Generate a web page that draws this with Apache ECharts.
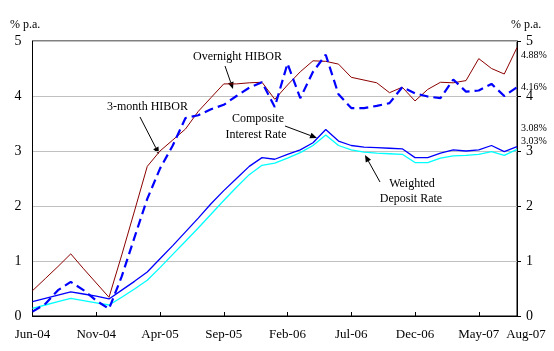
<!DOCTYPE html>
<html>
<head>
<meta charset="utf-8">
<script src="https://cdn.jsdelivr.net/npm/echarts@6/dist/echarts.min.js"></script>
<style>
html,body{margin:0;padding:0;background:#fff;}
#c{width:554px;height:351px;}
</style>
</head>
<body>
<div id="c"></div>
<script>
const months = ['Jun-04','Jul-04','Aug-04','Sep-04','Oct-04','Nov-04','Dec-04','Jan-05','Feb-05','Mar-05',
  'Apr-05','May-05','Jun-05','Jul-05','Aug-05','Sep-05','Oct-05','Nov-05','Dec-05','Jan-06',
  'Feb-06','Mar-06','Apr-06','May-06','Jun-06','Jul-06','Aug-06','Sep-06','Oct-06','Nov-06',
  'Dec-06','Jan-07','Feb-07','Mar-07','Apr-07','May-07','Jun-07','Jul-07','Aug-07'];

const hibor3m = [0.46,0.68,0.90,1.13,0.86,0.60,0.34,1.11,1.91,2.72,
  3.00,3.20,3.40,3.72,3.97,4.22,4.22,4.24,4.25,3.94,
  4.20,4.44,4.64,4.63,4.58,4.34,4.29,4.24,4.06,4.16,
  3.91,4.12,4.25,4.24,4.28,4.68,4.50,4.40,4.88];

const hiborOvernight = [0.08,0.22,0.47,0.62,0.47,0.28,0.13,0.72,1.43,2.13,
  2.68,3.10,3.60,3.65,3.76,3.84,4.00,4.15,4.25,3.80,
  4.59,3.96,4.44,4.75,4.03,3.78,3.78,3.82,3.87,4.16,
  4.05,3.99,3.96,4.30,4.08,4.10,4.22,4.00,4.16];

const compositeRate = [0.26,0.32,0.38,0.44,0.40,0.36,0.31,0.47,0.63,0.80,
  1.04,1.28,1.53,1.78,2.04,2.28,2.50,2.72,2.88,2.85,
  2.94,3.02,3.15,3.39,3.18,3.10,3.07,3.06,3.05,3.04,
  2.88,2.88,2.96,3.02,3.00,3.02,3.10,2.99,3.08];

const depositRate = [0.14,0.20,0.26,0.32,0.28,0.24,0.20,0.34,0.49,0.65,
  0.88,1.12,1.36,1.60,1.85,2.10,2.34,2.57,2.74,2.78,
  2.87,2.97,3.10,3.29,3.10,3.02,2.98,2.96,2.95,2.94,
  2.79,2.79,2.87,2.91,2.92,2.94,2.99,2.92,3.03];

const yTicks = [0,1,2,3,4,5];
const endLabels = ['4.88%','4.16%','3.08%','3.03%'];

const FONT = '"Liberation Serif","Times New Roman",serif';
const chart = echarts.init(document.getElementById('c'), null, {renderer:'canvas'});

function arrow(x1,y1,x2,y2){
  const dx=x2-x1, dy=y2-y1, L=Math.sqrt(dx*dx+dy*dy);
  const ux=dx/L, uy=dy/L, hl=7, hw=3;
  const bx=x2-ux*hl, by=y2-uy*hl;
  return [
    {type:'line', shape:{x1:x1,y1:y1,x2:bx,y2:by}, style:{stroke:'#000',lineWidth:1}},
    {type:'polygon', shape:{points:[[x2,y2],[bx-uy*hw,by+ux*hw],[bx+uy*hw,by-ux*hw]]}, style:{fill:'#000'}}
  ];
}
function txt(x,y,s,size,align){
  return {type:'text', x:x, y:y, style:{text:s, font:size+'px '+FONT, fill:'#000', textAlign:align||'left', textVerticalAlign:'middle'}};
}

const graphics = [].concat(
  txt(10,25,'% p.a.',12),
  txt(511,25,'% p.a.',12),
  txt(193,57,'Overnight HIBOR',12),
  arrow(225,66,233,89),
  txt(107,107,'3-month HIBOR',12),
  arrow(140,117,159,154),
  txt(258,119,'Composite',12,'center'),
  txt(256,135,'Interest Rate',12,'center'),
  arrow(285,126,317,138),
  txt(412,184,'Weighted',12,'center'),
  txt(411,199,'Deposit Rate',12,'center'),
  arrow(380,182,365,155),
  txt(521,55,endLabels[0],10),
  txt(521,87,endLabels[1],10),
  txt(521,128,endLabels[2],10),
  txt(521,141,endLabels[3],10)
);

const showIdx = (i)=> i%5===0 || i===months.length-1;

chart.setOption({
  animation:false,
  backgroundColor:'#fff',
  grid:{left:32.5, right:37, top:41, bottom:35, show:true, borderColor:'#000', borderWidth:1, backgroundColor:'transparent'},
  xAxis:{
    type:'category', data:months, boundaryGap:false,
    axisLine:{lineStyle:{color:'#000',width:1}},
    axisTick:{inside:true, length:4, interval:(i)=>showIdx(i), lineStyle:{color:'#000'}},
    axisLabel:{interval:(i)=>showIdx(i), margin:12, color:'#000', fontFamily:FONT, fontSize:13,
      formatter:(v,i)=> i===months.length-1 ? '{r|'+v+'}' : v,
      rich:{r:{fontFamily:FONT, fontSize:13, color:'#000', padding:[0,0,0,18]}}},
    splitLine:{show:false}
  },
  yAxis:[
    {type:'value', min:yTicks[0], max:yTicks[yTicks.length-1], interval:1, position:'left',
      axisLine:{show:true, lineStyle:{color:'#000',width:1}},
      axisTick:{show:false},
      axisLabel:{margin:11, color:'#000', fontFamily:FONT, fontSize:14},
      splitLine:{show:true, lineStyle:{color:'#c0c0c0', width:1}}},
    {type:'value', min:yTicks[0], max:yTicks[yTicks.length-1], interval:1, position:'right',
      axisLine:{show:true, lineStyle:{color:'#000',width:1}},
      axisTick:{show:true, inside:false, length:4, lineStyle:{color:'#000'}},
      axisLabel:{margin:9, color:'#000', fontFamily:FONT, fontSize:14},
      splitLine:{show:false}}
  ],
  series:[
    {name:'3-month HIBOR', type:'line', data:hibor3m, symbol:'none', lineStyle:{color:'#8b0000', width:1}, z:2},
    {name:'Weighted Deposit Rate', type:'line', data:depositRate, symbol:'none', lineStyle:{color:'#00ffff', width:1.3}, z:3},
    {name:'Composite Interest Rate', type:'line', data:compositeRate, symbol:'none', lineStyle:{color:'#0000ff', width:1.3}, z:4},
    {name:'Overnight HIBOR', type:'line', data:hiborOvernight, symbol:'none', lineStyle:{color:'#0000ff', width:2.2, type:[9,5]}, z:5}
  ],
  graphic:graphics
});
</script>
</body>
</html>
